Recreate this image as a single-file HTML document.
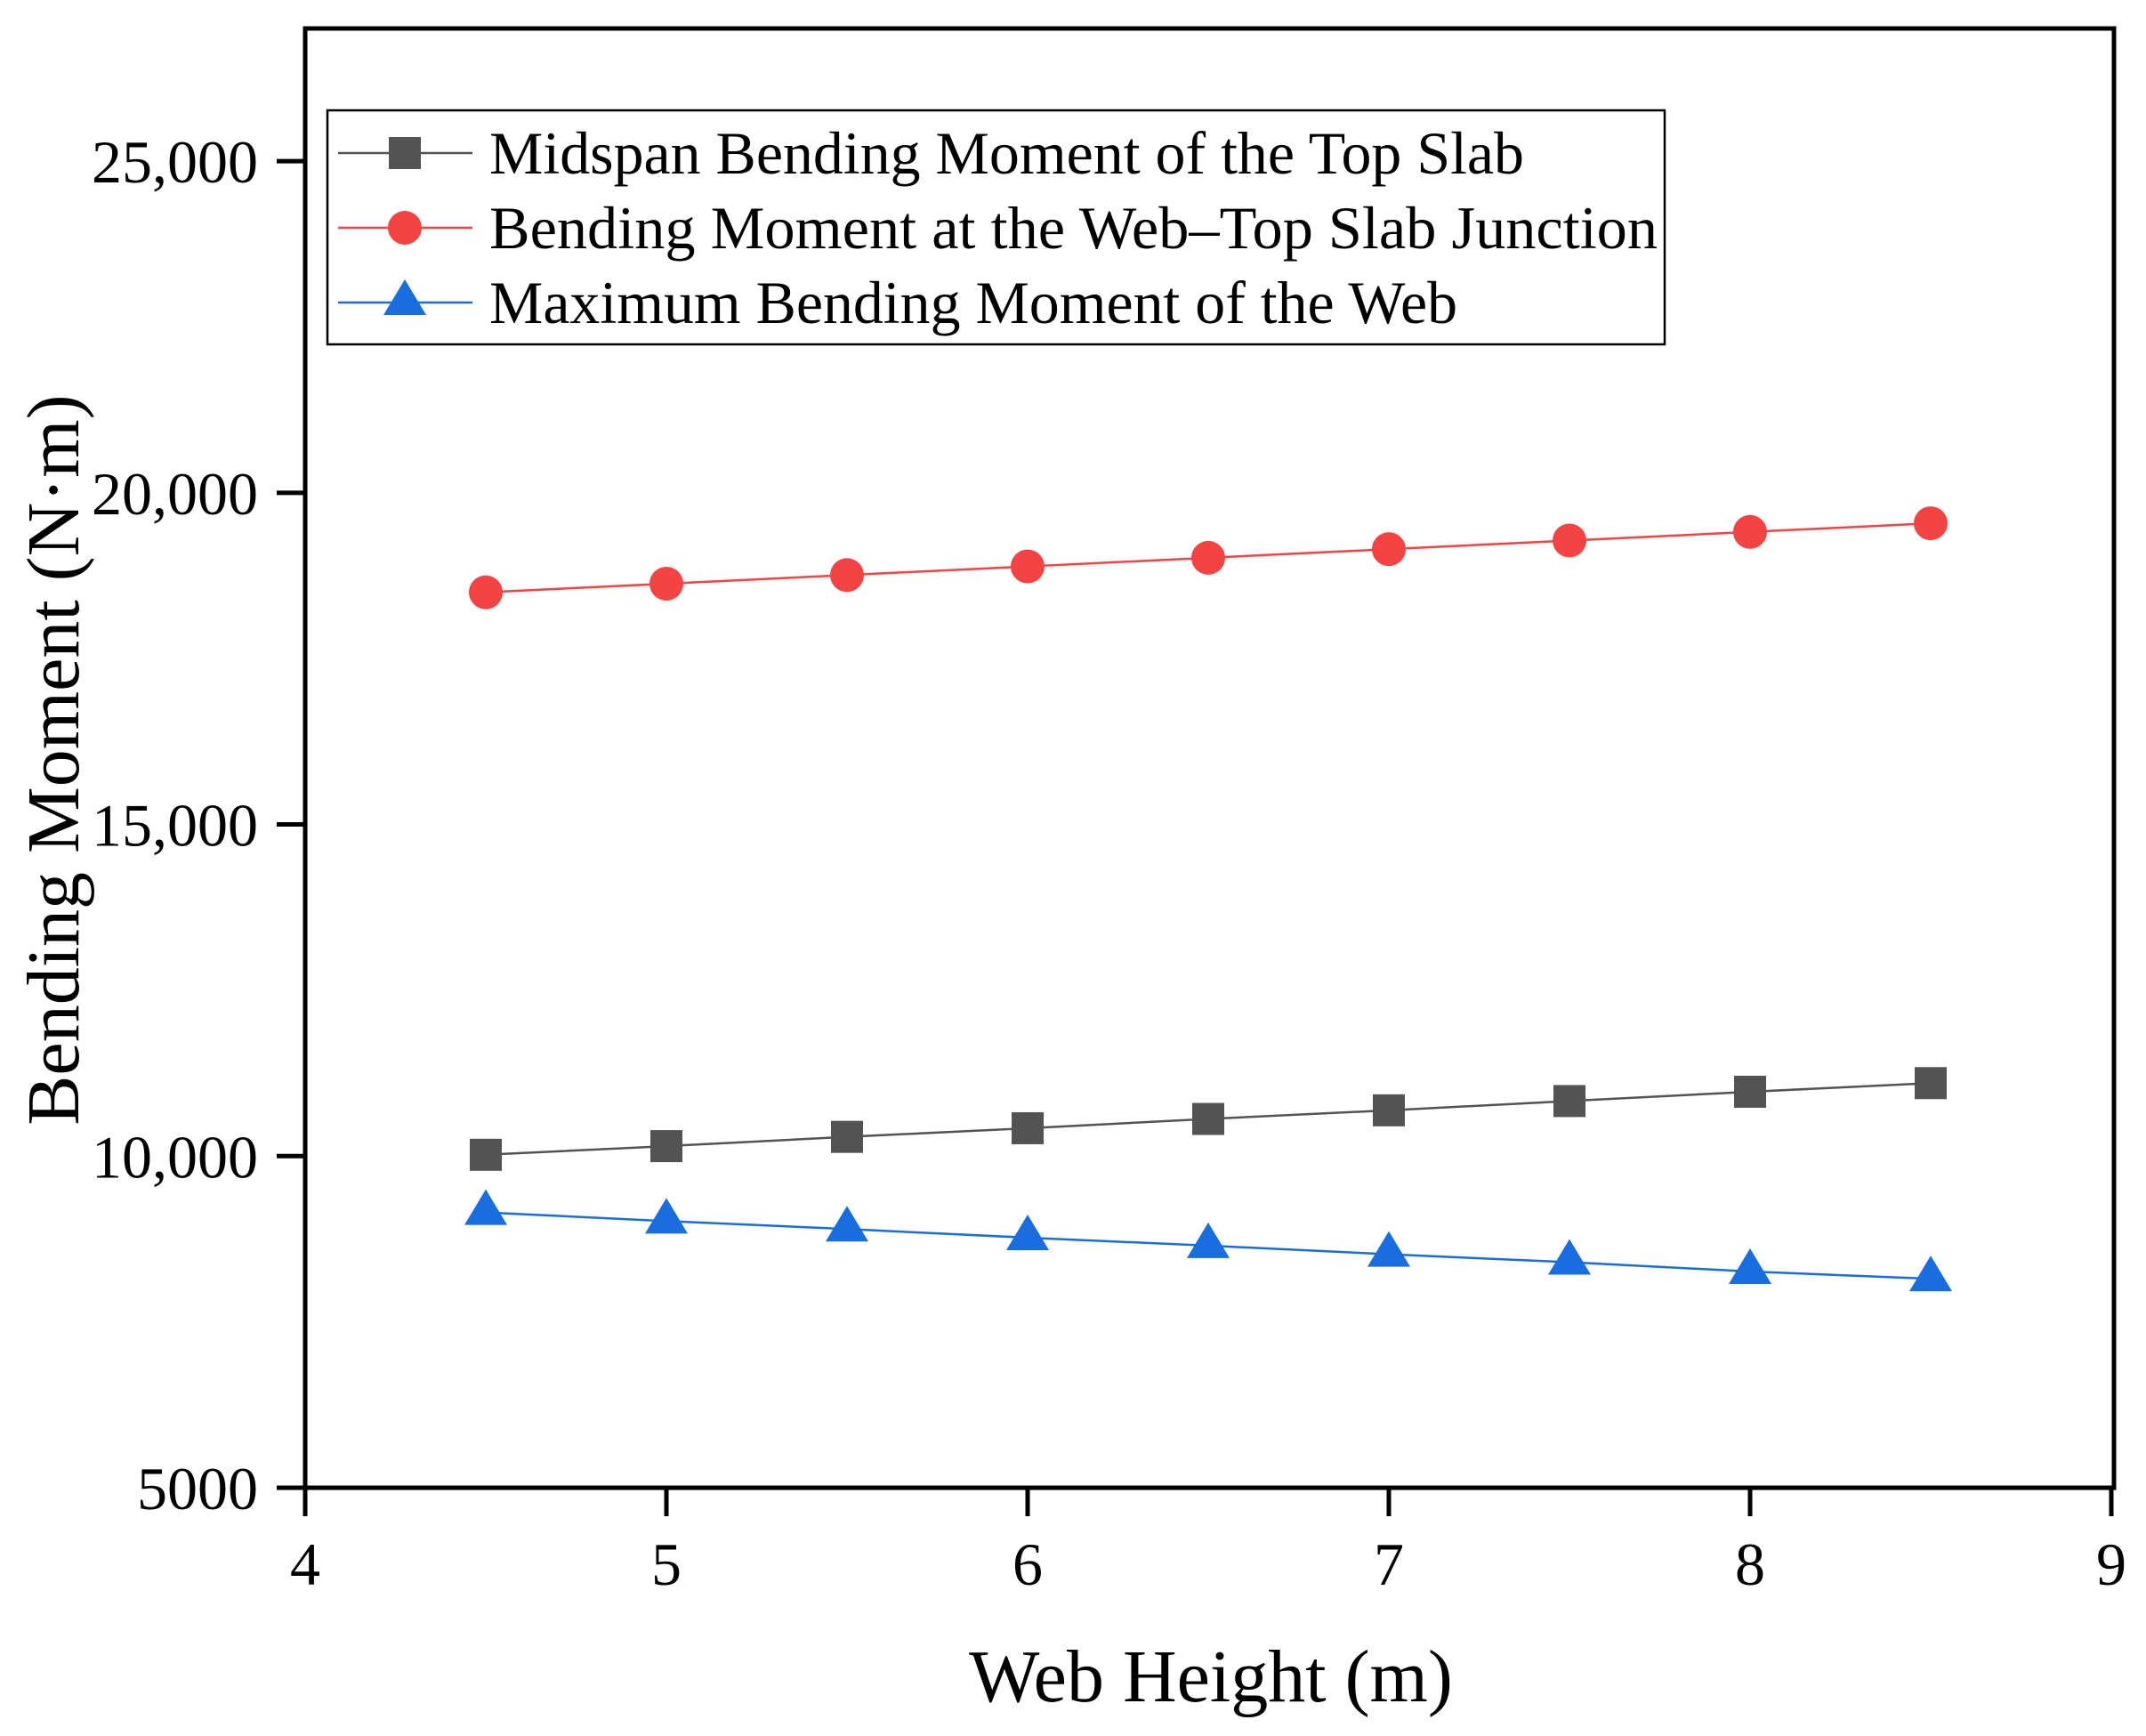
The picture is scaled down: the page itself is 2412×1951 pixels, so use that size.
<!DOCTYPE html>
<html><head><meta charset="utf-8"><style>
html,body{margin:0;padding:0;background:#fff;}
svg{display:block;font-family:"Liberation Serif",serif;}
</style></head><body>
<svg id="chart" width="2412" height="1951" viewBox="0 0 2412 1951" xmlns="http://www.w3.org/2000/svg">
<g id="plot"></g>
</svg>
<script>
const xValues = [4.5, 5, 5.5, 6, 6.5, 7, 7.5, 8, 8.5];
const midspanTopSlab = [10020, 10150, 10290, 10420, 10560, 10690, 10830, 10970, 11100];
const webTopJunction = [18500, 18630, 18760, 18890, 19020, 19150, 19280, 19410, 19540];
const maxWeb = [9150, 9020, 8900, 8770, 8650, 8520, 8400, 8260, 8150];
const xTicks = [4, 5, 6, 7, 8, 9];
const yTicks = [5000, 10000, 15000, 20000, 25000];
const yTickLabels = ["5000", "10,000", "15,000", "20,000", "25,000"];

const NS = "http://www.w3.org/2000/svg";
const L = 343, R = 2376, T = 32, B = 1672;
const xMin = 4, xMax = 9, yMin = 5000, yMax = 27000;
function sx(v){ return L + (v - xMin) / (xMax - xMin) * (2373 - L); }
function sy(v){ return B - (v - yMin) / (yMax - yMin) * (B - T); }
const g = document.getElementById('plot');
function mk(tag, attrs, parent){
  const e = document.createElementNS(NS, tag);
  for (const k in attrs) e.setAttribute(k, attrs[k]);
  (parent || g).appendChild(e);
  return e;
}

// frame
const frame = mk('rect', {x:L, y:T, width:R-L, height:B-T, fill:'none', stroke:'#000', 'stroke-width':5});



// x ticks
xTicks.forEach(t => {
  const X = sx(t);
  const tk = mk('line', {x1:X, x2:X, y1:B, y2:1704, stroke:'#000', 'stroke-width':5});
  
  
  const lb = mk('text', {x:X, y:1781, 'font-size':68, 'text-anchor':'middle'});
  lb.textContent = t;
  
  
});
// y ticks
yTicks.forEach((t, i) => {
  const Y = sy(t);
  const tk = mk('line', {x1:311, x2:L, y1:Y, y2:Y, stroke:'#000', 'stroke-width':5});
  
  
  const lb = mk('text', {x:290, y:Y + 24, 'font-size':68, 'text-anchor':'end'});
  lb.textContent = yTickLabels[i];
  
  
});

// axis titles
const xt = mk('text', {x:1361, y:1912, 'font-size':84, 'text-anchor':'middle'});
xt.textContent = 'Web Height (m)';


const yt = mk('text', {x:0, y:0, 'font-size':84, 'text-anchor':'middle', transform:'translate(88,854) rotate(-90)'});
yt.textContent = 'Bending Moment (N\u00b7m)';



const series = [
  {name:'midspan-top-slab', vals:midspanTopSlab, color:'#535353', marker:'square'},
  {name:'web-top-slab-junction', vals:webTopJunction, color:'#f54242', marker:'circle'},
  {name:'max-web-moment', vals:maxWeb, color:'#1a6ddf', marker:'triangle'}
];
function marker(type, x, y, color, parent){
  let m;
  if (type === 'square') m = mk('rect', {x:x-18, y:y-18, width:36, height:36, fill:color}, parent);
  else if (type === 'circle') m = mk('circle', {cx:x, cy:y, r:19, fill:color}, parent);
  else m = mk('polygon', {points:`${x},${y-26} ${x+24},${y+14} ${x-24},${y+14}`, fill:color}, parent);
  return m;
}
series.forEach(s => {
  const sg = mk('g', {});
  
  
  const pts = xValues.map((x, i) => sx(x) + ',' + sy(s.vals[i])).join(' ');
  const pl = mk('polyline', {points:pts, fill:'none', stroke:s.color, 'stroke-width':2.5}, sg);
  
  
  xValues.forEach((x, i) => {
    const m = marker(s.marker, sx(x), sy(s.vals[i]), s.color, sg);
    
    
  });
});

// legend
const lg = mk('g', {});


const lbox = mk('rect', {x:368, y:124, width:1503, height:263, fill:'#fff', stroke:'#000', 'stroke-width':2.5}, lg);


const legendLabels = ['Midspan Bending Moment of the Top Slab', 'Bending Moment at the Web\u2013Top Slab Junction', 'Maximum Bending Moment of the Web'];
const legendWidths = [1163, 1313, 1088];
const rowY = [172, 256, 340];
series.forEach((s, i) => {
  const eg = mk('g', {}, lg);
  
  
  mk('line', {x1:380, x2:531, y1:rowY[i], y2:rowY[i], stroke:s.color, 'stroke-width':2.5}, eg);
  marker(s.marker, 455, rowY[i], s.color, eg);
  const t = mk('text', {x:550, y:rowY[i] + 23, 'font-size':68, textLength:legendWidths[i], lengthAdjust:'spacingAndGlyphs'}, eg);
  t.textContent = legendLabels[i];
});
</script>
</body></html>
